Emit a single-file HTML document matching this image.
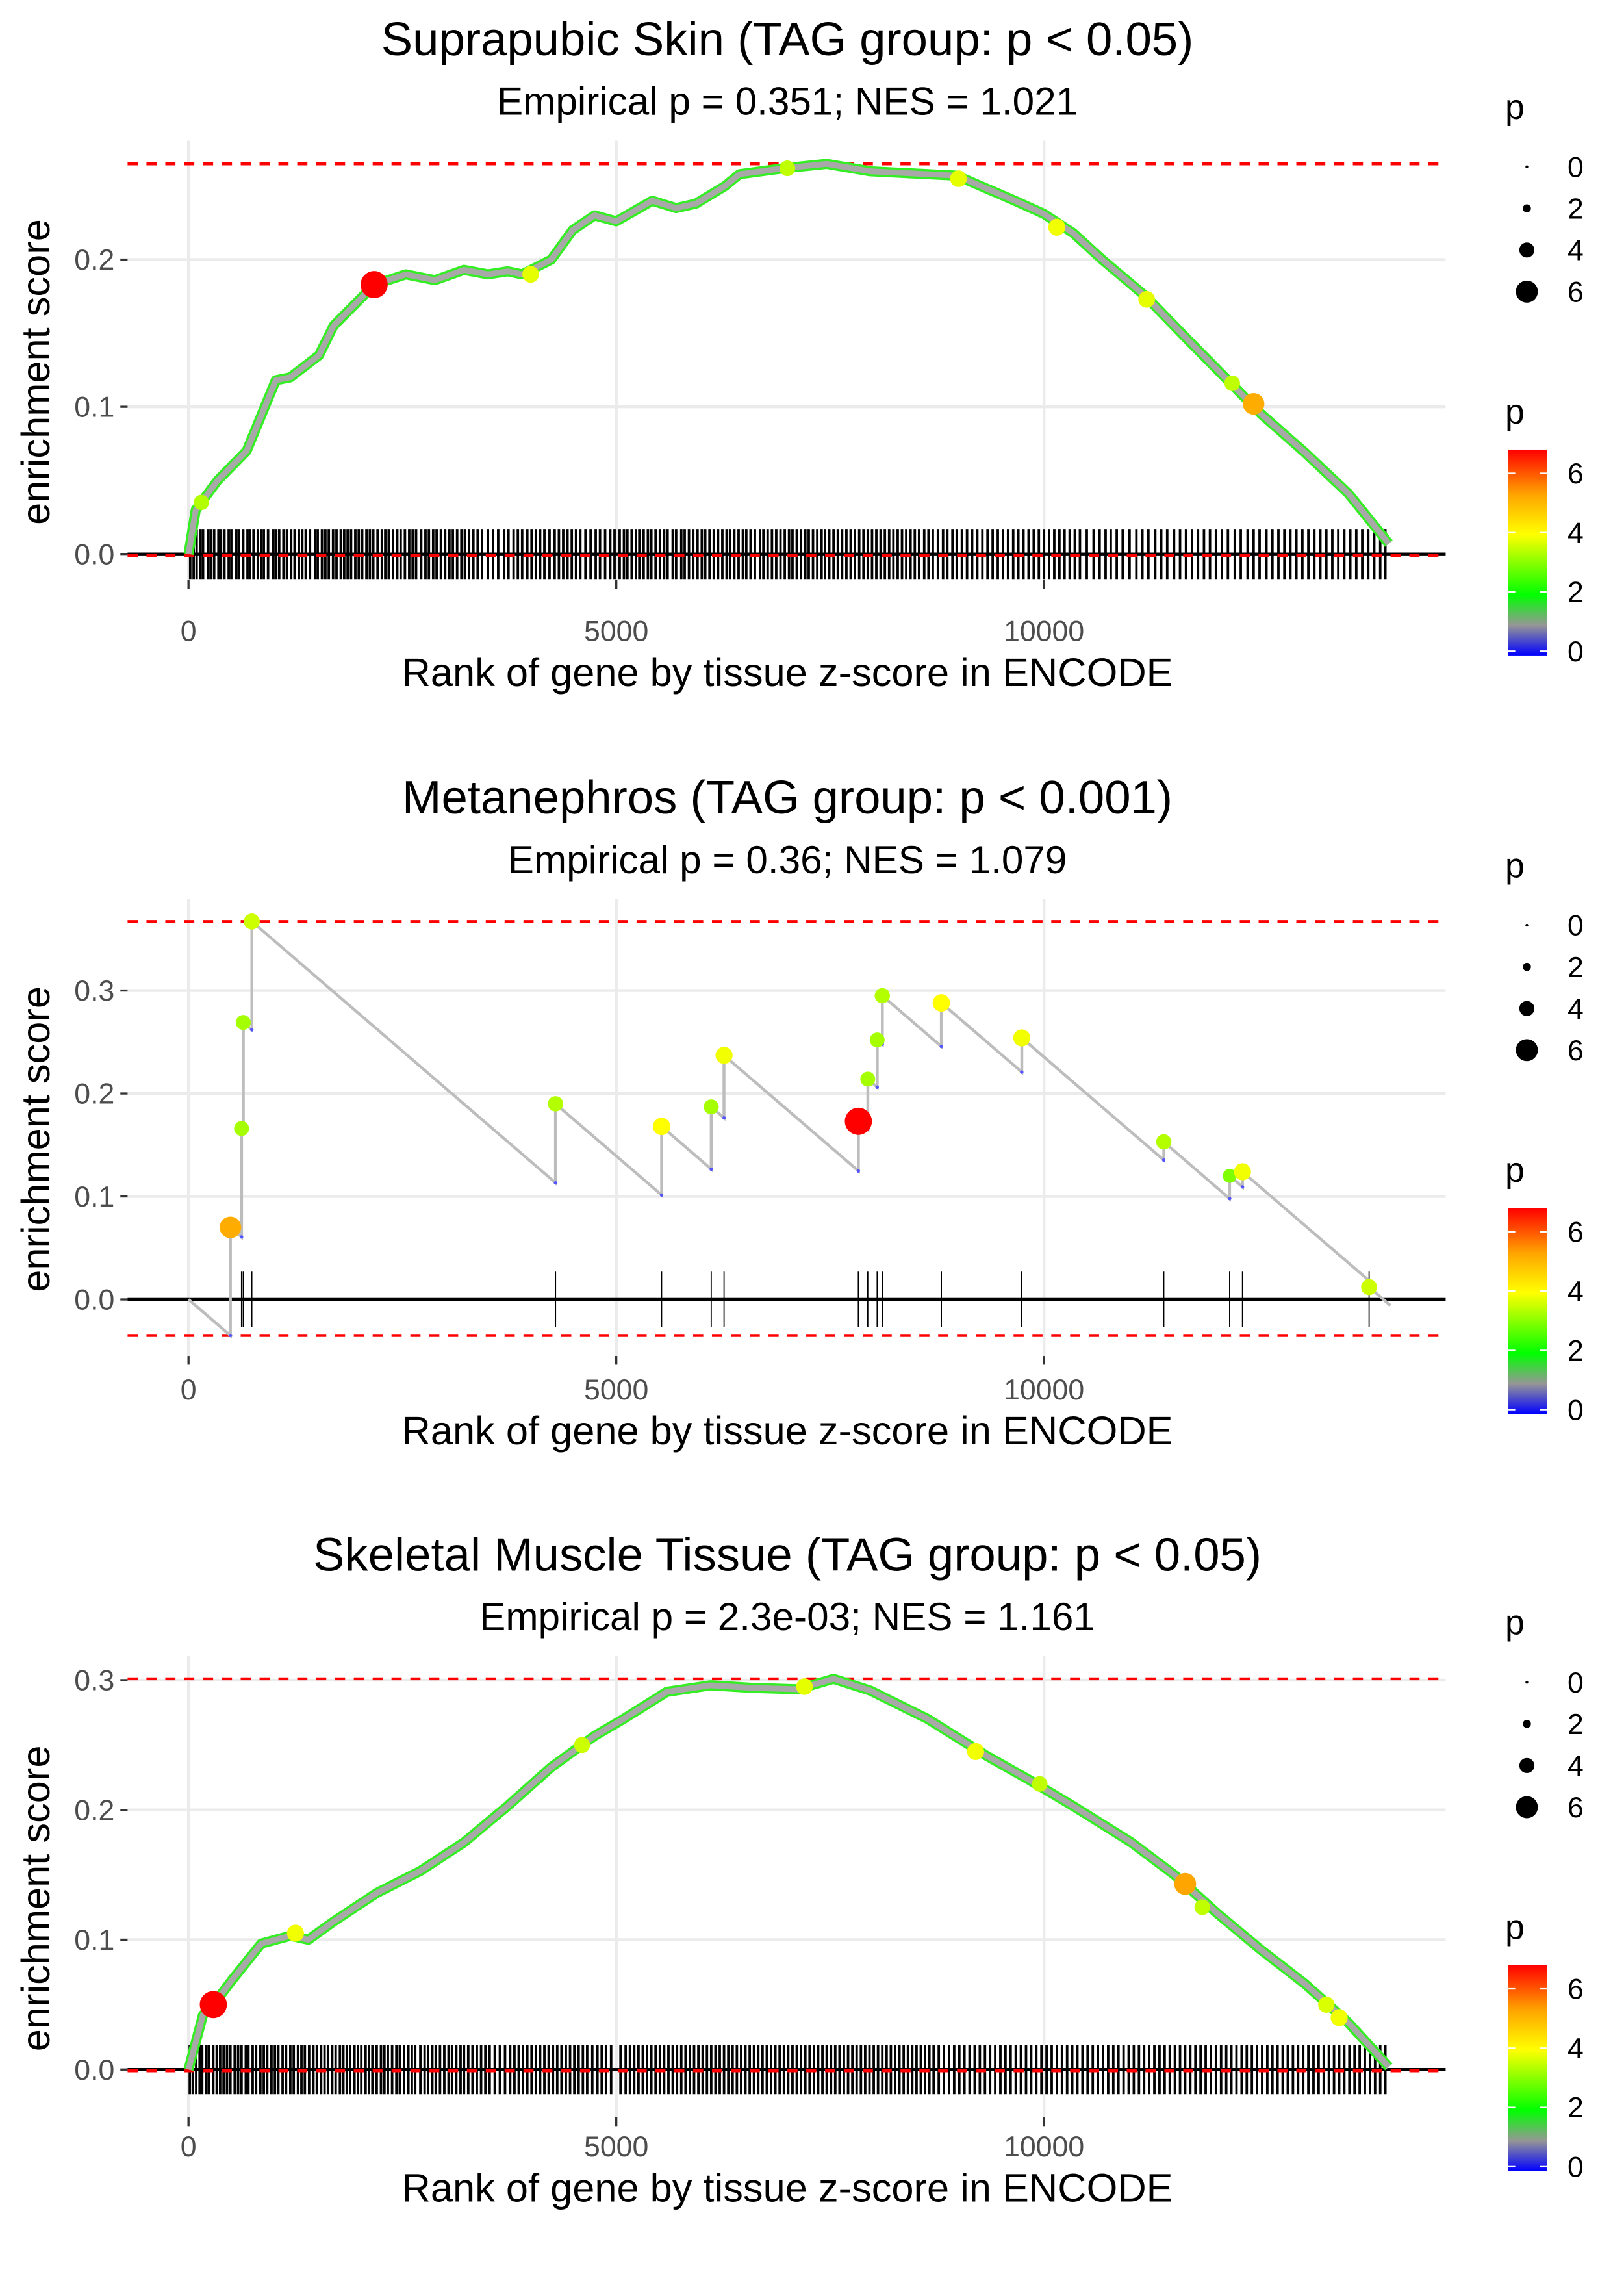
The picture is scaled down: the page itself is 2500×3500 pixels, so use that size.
<!DOCTYPE html>
<html><head><meta charset="utf-8">
<style>
html,body{margin:0;padding:0;background:#fff;}
svg{display:block;}
text{font-family:"Liberation Sans",Arial,sans-serif;}
</style></head>
<body>
<svg id="chart" width="2500" height="3500" viewBox="0 0 1120 1568" preserveAspectRatio="none" xmlns="http://www.w3.org/2000/svg"></svg>
<script>
// ---------- DATA ----------
const xTicks = [0, 5000, 10000];
const xTickLabels = ["0", "5000", "10000"];

const titles = ["Suprapubic Skin (TAG group: p < 0.05)", "Metanephros (TAG group: p < 0.001)", "Skeletal Muscle Tissue (TAG group: p < 0.05)"];
const subtitles = ["Empirical p = 0.351; NES = 1.021", "Empirical p = 0.36; NES = 1.079", "Empirical p = 2.3e-03; NES = 1.161"];

// Panel 1 curve
const p1Rank = [0,85,340,680,1020,1190,1525,1695,2035,2170,2540,2880,3220,3500,3730,3900,4240,4490,4745,5000,5420,5700,5930,6270,6440,6950,7460,7970,8640,8980,9660,10000,10340,10680,11190,11690,12200,12540,13050,13560,14030];
const p1ES   = [0,0.03,0.05,0.07,0.118,0.12,0.135,0.155,0.175,0.183,0.19,0.186,0.193,0.19,0.192,0.19,0.2,0.22,0.23,0.226,0.24,0.235,0.238,0.25,0.258,0.262,0.265,0.26,0.258,0.257,0.24,0.231,0.218,0.2,0.175,0.145,0.115,0.095,0.069,0.041,0.007];
const p1DotRank = [2170,12450,4000,7000,9000,10150,11200,12200,150];
const p1DotES   = [0.183,0.102,0.19,0.262,0.255,0.222,0.173,0.116,0.035];
const p1DotP    = [6.8,5.2,3.8,3.5,3.8,3.9,3.8,3.5,3.4];
const p1Rug = [20,60,95,140,170,230,260,300,350,380,420,470,500,560,590,640,690,720,760,810,850,880,930,990,1020,1060,1110,1150,1200,1240,1290,1330,1370,1420,1480,1510,1560,1600,1640,1690,1730,1780,1820,1860,1900,1950,1990,2030,2080,2120,2160,2210,2260,2300,2340,2390,2440,2480,2530,2580,2620,2660,2720,2770,2810,2860,2900,2950,3000,3050,3090,3140,3190,3230,3280,3330,3380,3430,3500,3560,3620,3690,3740,3800,3850,3900,3960,4010,4060,4110,4160,4220,4280,4330,4380,4430,4480,4530,4580,4640,4700,4760,4810,4870,4930,4980,5040,5090,5130,5180,5230,5270,5320,5370,5410,5460,5510,5560,5600,5660,5700,5760,5800,5850,5900,5950,6000,6040,6090,6140,6190,6240,6290,6330,6380,6430,6480,6520,6570,6620,6680,6720,6770,6820,6870,6920,6970,7020,7060,7110,7160,7210,7250,7300,7350,7400,7440,7490,7540,7590,7640,7690,7740,7790,7840,7890,7940,7990,8040,8090,8140,8190,8240,8290,8340,8390,8440,8490,8540,8600,8650,8700,8760,8820,8870,8930,8980,9040,9100,9160,9220,9280,9340,9400,9460,9520,9580,9640,9700,9760,9820,9880,9940,10000,10060,10120,10180,10240,10300,10360,10420,10500,10580,10650,10720,10780,10850,10920,11000,11080,11150,11220,11300,11370,11440,11520,11590,11660,11730,11800,11870,11940,12010,12080,12150,12230,12300,12380,12450,12520,12600,12670,12740,12810,12880,12950,13020,13090,13160,13230,13300,13370,13440,13510,13580,13650,13720,13790,13860,13930,13990];

// Panel 2 hits (step walk)
const p2HitRank = [490,620,640,740,4290,5530,6110,6260,7830,7940,8050,8110,8800,9740,11400,12170,12320,13800];
const p2HitES   = [0.07,0.166,0.269,0.367,0.19,0.168,0.187,0.237,0.173,0.214,0.252,0.295,0.288,0.254,0.153,0.12,0.124,0.012];
const p2HitP    = [5.2,3.3,3.3,3.6,3.4,4.0,3.3,3.9,6.8,3.3,3.3,3.4,4.0,3.9,3.4,3.0,3.9,3.6];
const p2MissSlope = 0.0000715;
const p2EndRank = 14050;

// Panel 3 curve
const p3Rank = [0,170,290,510,850,1190,1400,1695,2200,2710,3220,3730,4240,4745,5085,5590,6100,6610,7120,7540,7970,8640,9320,9830,10340,11020,11525,12030,12540,13050,13560,14030];
const p3ES   = [0,0.042,0.05,0.069,0.097,0.103,0.1,0.114,0.136,0.153,0.175,0.203,0.233,0.257,0.27,0.291,0.296,0.294,0.293,0.301,0.292,0.27,0.242,0.223,0.203,0.175,0.15,0.12,0.092,0.066,0.036,0.002];
const p3DotRank = [290,11650,1250,4600,7200,9200,9950,11850,13300,13450];
const p3DotES   = [0.05,0.143,0.105,0.25,0.295,0.245,0.22,0.125,0.05,0.04];
const p3DotP    = [6.8,5.3,3.9,3.6,3.8,3.9,3.5,3.5,3.7,3.9];
const p3Rug = [15,50,90,130,160,210,240,290,330,370,410,450,490,540,580,620,670,700,750,790,840,880,920,970,1010,1050,1100,1140,1190,1230,1280,1320,1360,1410,1460,1500,1550,1590,1630,1680,1720,1770,1810,1850,1890,1940,1980,2020,2070,2110,2150,2200,2250,2290,2330,2380,2430,2470,2520,2570,2610,2650,2710,2760,2800,2850,2890,2940,2990,3040,3080,3130,3180,3220,3270,3320,3370,3420,3470,3520,3580,3640,3700,3760,3810,3860,3910,3960,4010,4060,4110,4160,4210,4260,4310,4360,4410,4460,4510,4560,4610,4660,4720,4780,4830,4880,4940,5050,5110,5160,5210,5260,5310,5360,5410,5460,5510,5560,5610,5660,5710,5760,5810,5860,5910,5960,6010,6060,6110,6160,6210,6260,6310,6360,6410,6460,6510,6560,6610,6660,6710,6760,6810,6860,6910,6960,7010,7060,7110,7160,7210,7260,7310,7360,7410,7460,7510,7560,7610,7660,7710,7760,7810,7860,7910,7960,8010,8060,8110,8160,8210,8260,8310,8360,8410,8460,8510,8560,8610,8660,8710,8770,8830,8890,8950,9010,9070,9130,9190,9250,9310,9370,9430,9490,9550,9610,9670,9730,9790,9850,9910,9970,10030,10090,10150,10210,10270,10330,10390,10450,10510,10570,10630,10690,10750,10810,10870,10930,10990,11050,11110,11170,11230,11290,11350,11410,11470,11530,11590,11650,11710,11770,11830,11890,11950,12010,12070,12130,12190,12250,12310,12370,12430,12490,12550,12610,12670,12730,12790,12850,12910,12970,13030,13090,13150,13210,13270,13330,13390,13450,13510,13570,13630,13690,13750,13810,13870,13930,13990];

const sizeLegendVals = [0, 2, 4, 6];
const colorLegendVals = [0, 2, 4, 6];

// ---------- LAYOUT ----------
const SVGNS = "http://www.w3.org/2000/svg";
const svg = document.getElementById("chart");
function mk(tag, attrs, parent) {
  const e = document.createElementNS(SVGNS, tag);
  for (const k in attrs) e.setAttribute(k, attrs[k]);
  (parent || svg).appendChild(e);
  return e;
}
const xScale = r => 130 + r * 0.059;
const PL = 88, PR = 997;

const panels = [
  {off:0,    y0:382,  per:1015, ticks:[0,0.1,0.2],     tickL:["0.0","0.1","0.2"],        top:97,   bot:400,  hi:0.265, lo:-0.001, rugH:0.017},
  {off:523,  y0:896,  per:710,  ticks:[0,0.1,0.2,0.3], tickL:["0.0","0.1","0.2","0.3"], top:620,  bot:935,  hi:0.367, lo:-0.035, rugH:0.027},
  {off:1045, y0:1427, per:895,  ticks:[0,0.1,0.2,0.3], tickL:["0.0","0.1","0.2","0.3"], top:1142, bot:1460, hi:0.301, lo:-0.001, rugH:0.019}
];

function pColor(p) {
  const stops = [[0,[0,0,255]],[1,[150,150,150]],[2,[0,255,0]],[4,[255,255,0]],[5.3,[255,165,0]],[6.8,[255,0,0]]];
  if (p <= 0) return "rgb(0,0,255)";
  for (let i = 1; i < stops.length; i++) {
    if (p <= stops[i][0]) {
      const t = (p - stops[i-1][0]) / (stops[i][0] - stops[i-1][0]);
      const c = stops[i-1][1].map((v, j) => Math.round(v + (stops[i][1][j] - v) * t));
      return "rgb(" + c.join(",") + ")";
    }
  }
  return "rgb(255,0,0)";
}
const pRadius = p => 1.2 + p * 1.2;

panels.forEach((P, idx) => {
  const yS = v => P.y0 - v * P.per;
  const g = mk("g", {});
  
  

  const t = mk("text", {x:543, y:38 + P.off, "font-size":32.5, "text-anchor":"middle", fill:"#000"}, g);
  t.textContent = titles[idx];
  
  
  const st = mk("text", {x:543, y:79 + P.off, "font-size":27, "text-anchor":"middle", fill:"#000"}, g);
  st.textContent = subtitles[idx];
  
  

  P.ticks.forEach(v => {
    const l = mk("line", {x1:PL, x2:PR, y1:yS(v), y2:yS(v), stroke:"#ebebeb", "stroke-width":2}, g);
    
    
  });
  xTicks.forEach(v => {
    const l = mk("line", {x1:xScale(v), x2:xScale(v), y1:P.top, y2:P.bot, stroke:"#ebebeb", "stroke-width":2}, g);
    
    
  });

  const rug = idx === 0 ? p1Rug : idx === 2 ? p3Rug : p2HitRank;
  rug.forEach(r => {
    const l = mk("line", {x1:xScale(r), x2:xScale(r), y1:yS(P.rugH), y2:yS(-P.rugH), stroke:"#000", "stroke-width":idx === 1 ? 0.8 : 1.7}, g);
    
    
  });

  const z = mk("line", {x1:PL, x2:PR, y1:yS(0), y2:yS(0), stroke:"#000", "stroke-width":2}, g);
  
  
  [P.hi, P.lo].forEach(v => {
    const d = mk("line", {x1:PL, x2:PR, y1:yS(v), y2:yS(v), stroke:"#ff0000", "stroke-width":2, "stroke-dasharray":"7,6"}, g);
    
    
  });

  if (idx !== 1) {
    const R = idx === 0 ? p1Rank : p3Rank;
    const E = idx === 0 ? p1ES : p3ES;
    const pts = R.map((r, i) => xScale(r).toFixed(1) + "," + yS(E[i]).toFixed(1)).join(" ");
    const o = mk("polyline", {points:pts, fill:"none", stroke:"#33ee22", "stroke-width":7, "stroke-linejoin":"round"}, g);
    
    
    const c = mk("polyline", {points:pts, fill:"none", stroke:"#a8a8a8", "stroke-width":4, "stroke-linejoin":"round"}, g);
    
    
    const DR = idx === 0 ? p1DotRank : p3DotRank;
    const DE = idx === 0 ? p1DotES : p3DotES;
    const DP = idx === 0 ? p1DotP : p3DotP;
    DR.forEach((r, i) => {
      const ci = mk("circle", {cx:xScale(r), cy:yS(DE[i]), r:pRadius(DP[i]), fill:pColor(DP[i])}, g);
      
      
    });
  } else {
    let pts = [[0, 0]];
    let prevR = 0, prevE = 0;
    const bottoms = [];
    p2HitRank.forEach((r, i) => {
      const before = prevE - p2MissSlope * (r - prevR);
      pts.push([r, before]);
      bottoms.push([r, before]);
      pts.push([r, p2HitES[i]]);
      prevR = r; prevE = p2HitES[i];
    });
    pts.push([p2EndRank, prevE - p2MissSlope * (p2EndRank - prevR)]);
    const s = pts.map(p => xScale(p[0]).toFixed(1) + "," + yS(p[1]).toFixed(1)).join(" ");
    const c = mk("polyline", {points:s, fill:"none", stroke:"#bdbdbd", "stroke-width":2}, g);
    
    
    bottoms.forEach(b => {
      const ci = mk("circle", {cx:xScale(b[0]), cy:yS(b[1]), r:1.2, fill:"#5555ff"}, g);
      
      
    });
    p2HitRank.forEach((r, i) => {
      const ci = mk("circle", {cx:xScale(r), cy:yS(p2HitES[i]), r:pRadius(p2HitP[i]), fill:pColor(p2HitP[i])}, g);
      
      
    });
  }

  P.ticks.forEach((v, i) => {
    mk("line", {x1:PL - 5, x2:PL, y1:yS(v), y2:yS(v), stroke:"#333", "stroke-width":1.5}, g);
    const tl = mk("text", {x:PL - 9, y:yS(v) + 7, "font-size":20, "text-anchor":"end", fill:"#4d4d4d"}, g);
    tl.textContent = P.tickL[i];
    
    
  });
  xTicks.forEach((v, i) => {
    mk("line", {x1:xScale(v), x2:xScale(v), y1:P.bot, y2:P.bot + 6, stroke:"#333", "stroke-width":1.5}, g);
    const tl = mk("text", {x:xScale(v), y:P.off + 442, "font-size":20, "text-anchor":"middle", fill:"#4d4d4d"}, g);
    tl.textContent = xTickLabels[i];
    
    
  });
  const xt = mk("text", {x:543, y:P.off + 473, "font-size":27.5, "text-anchor":"middle", fill:"#000"}, g);
  xt.textContent = "Rank of gene by tissue z-score in ENCODE";
  
  
  const cy = (P.top + P.bot) / 2 + 8;
  const yt = mk("text", {x:0, y:0, "font-size":27.5, "text-anchor":"middle", fill:"#000", transform:"translate(34," + cy + ") rotate(-90)"}, g);
  yt.textContent = "enrichment score";
  
  

  const sl = mk("text", {x:1038, y:P.off + 82, "font-size":24, fill:"#000"}, g);
  sl.textContent = "p";
  
  
  sizeLegendVals.forEach((v, i) => {
    const yy = P.off + 115 + i * 28.7;
    const d = mk("circle", {cx:1053, cy:yy, r:Math.max(1, pRadius(v) - 0.8), fill:"#000"}, g);
    
    
    const lt = mk("text", {x:1081, y:yy + 7, "font-size":20, fill:"#000"}, g);
    lt.textContent = String(v);
    
    
  });

  const ct = mk("text", {x:1038, y:P.off + 292, "font-size":24, fill:"#000"}, g);
  ct.textContent = "p";
  
  
  const gid = "grad" + idx;
  const defs = mk("defs", {}, g);
  const lg = mk("linearGradient", {id:gid, x1:0, y1:1, x2:0, y2:0}, defs);
  [[0,"#0000ff"],[0.147,"#969696"],[0.294,"#00ff00"],[0.588,"#ffff00"],[0.78,"#ffa500"],[1,"#ff0000"]].forEach(s => mk("stop", {offset:s[0], "stop-color":s[1]}, lg));
  const barTop = P.off + 310, barBot = P.off + 452;
  const bar = mk("rect", {x:1040, y:barTop, width:27, height:barBot - barTop, fill:"url(#" + gid + ")"}, g);
  
  
  colorLegendVals.forEach(v => {
    const yy = barBot - 3 - v / 6.8 * (barBot - barTop - 3);
    mk("line", {x1:1040, x2:1045, y1:yy, y2:yy, stroke:"#fff", "stroke-width":1}, g);
    mk("line", {x1:1062, x2:1067, y1:yy, y2:yy, stroke:"#fff", "stroke-width":1}, g);
    const lt = mk("text", {x:1081, y:yy + 7, "font-size":20, fill:"#000"}, g);
    lt.textContent = String(v);
    
    
  });
});
</script>
</body></html>
